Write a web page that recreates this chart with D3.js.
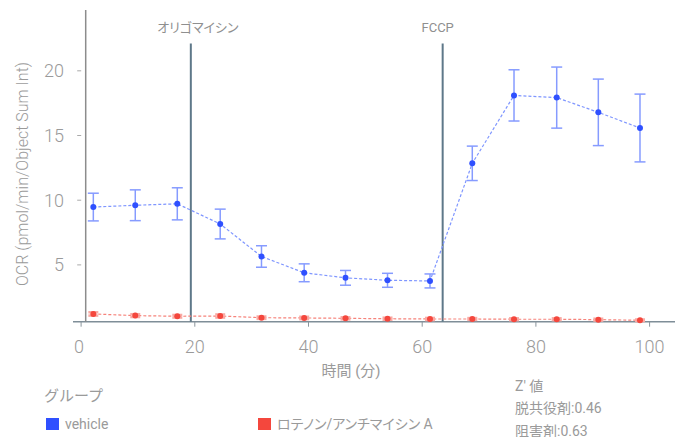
<!DOCTYPE html>
<html>
<head>
<meta charset="utf-8">
<script src="https://cdn.jsdelivr.net/npm/d3@7/dist/d3.min.js"></script>
<style>
  html, body { margin: 0; padding: 0; background: #fff; }
  svg { display: block; font-family: Roboto, "Noto Sans CJK JP", sans-serif; }
  .kana { font-feature-settings: "palt"; }
</style>
</head>
<body>
<svg id="chart" width="684" height="437"></svg>
<script>
// Measurement times (min)
const times = [2.15, 9.53, 16.92, 24.47, 31.73, 39.24, 46.51, 53.90, 61.37, 68.81, 76.15, 83.66, 90.98, 98.31];

// OCR per group: mean and error half-width
const vehicleMean = [9.47, 9.61, 9.72, 8.16, 5.65, 4.39, 4.00, 3.81, 3.76, 12.85, 18.10, 17.93, 16.79, 15.58];
const vehicleErr  = [1.07, 1.19, 1.24, 1.15, 0.83, 0.69, 0.57, 0.54, 0.54, 1.33, 1.98, 2.36, 2.57, 2.62];
const rotenoneMean = [1.21, 1.08, 1.03, 1.05, 0.92, 0.90, 0.87, 0.84, 0.82, 0.82, 0.80, 0.80, 0.77, 0.72];
const rotenoneErr  = [0.13, 0.11, 0.10, 0.12, 0.09, 0.09, 0.08, 0.08, 0.08, 0.07, 0.07, 0.07, 0.07, 0.06];

// Compound injections
const injectionNames = ["オリゴマイシン", "FCCP"];
const injectionTimes = [19.3, 63.6];

// Axis ticks
const xTicks = [0, 20, 40, 60, 80, 100];
const yTicks = [5, 10, 15, 20];

// Legend and Z' summary
const groupNames = ["vehicle", "ロテノン/アンチマイシン A"];
const zLabels = ["脱共役剤", "阻害剤"];
const zValues = [0.46, 0.63];

const colors = {
  vehicle: { dot: "#2f50ff", line: "#7f96ff", bar: "#869bff" },
  rotenone: { dot: "#f4473d", line: "#f6837b", bar: "#f9aaa4" }
};

const svg = d3.select("#chart");
const plotLeft = 85.7, plotBottom = 321.7, plotTop = 10;

const x = d3.scaleLinear().domain([0, 100]).range([81.1, 649.6]);
const y = d3.scaleLinear().domain([0.61, 24.7]).range([plotBottom, plotTop]);

const textGray = "#9a9a9a";

// x axis line and ticks
svg.append("line")
  .attr("x1", 73).attr("x2", 675)
  .attr("y1", plotBottom).attr("y2", plotBottom)
  .attr("stroke", "#7f8e98").attr("stroke-width", 1.5);

const xg = svg.append("g");
xg.selectAll("line.tick").data(xTicks).join("line")
  .attr("class", "tick")
  .attr("x1", d => x(d)).attr("x2", d => x(d))
  .attr("y1", plotBottom).attr("y2", plotBottom + 5)
  .attr("stroke", "#8a959c").attr("stroke-width", 1);
xg.selectAll("text").data(xTicks).join("text")
  .attr("x", d => x(d) - (d === 0 ? 2 : 0))
  .attr("y", 353)
  .attr("text-anchor", "middle")
  .attr("font-size", 18).attr("font-weight", 300)
  .attr("fill", textGray)
  .text(d => d);

// y axis line and ticks
svg.append("line")
  .attr("x1", plotLeft).attr("x2", plotLeft)
  .attr("y1", plotTop).attr("y2", plotBottom)
  .attr("stroke", "#8c8c8c").attr("stroke-width", 1.5);

const yg = svg.append("g");
yg.selectAll("line").data(yTicks).join("line")
  .attr("x1", plotLeft - 8.5).attr("x2", plotLeft - 4.5)
  .attr("y1", d => y(d)).attr("y2", d => y(d))
  .attr("stroke", "#aaa").attr("stroke-width", 1);
yg.selectAll("text").data(yTicks).join("text")
  .attr("x", 64)
  .attr("y", d => y(d))
  .attr("dy", "0.35em")
  .attr("text-anchor", "end")
  .attr("font-size", 18).attr("font-weight", 300)
  .attr("fill", textGray)
  .text(d => d);

// axis titles
svg.append("text")
  .attr("transform", "translate(28,174) rotate(-90)")
  .attr("text-anchor", "middle")
  .attr("font-size", 16).attr("font-weight", 300)
  .attr("fill", textGray)
  .text("OCR (pmol/min/Object Sum Int)");

svg.append("text")
  .attr("x", 351).attr("y", 376)
  .attr("text-anchor", "middle")
  .attr("font-size", 15)
  .attr("fill", textGray)
  .text("時間 (分)");

// injection markers
const inj = svg.append("g");
inj.selectAll("line").data(injectionTimes).join("line")
  .attr("x1", d => x(d)).attr("x2", d => x(d))
  .attr("y1", 43.5).attr("y2", plotBottom)
  .attr("stroke", "#5e7889").attr("stroke-width", 2);
inj.selectAll("text").data(injectionNames).join("text")
  .attr("class", "kana")
  .attr("x", (d, i) => x(injectionTimes[i]) + (i === 0 ? 7 : -5))
  .attr("y", 32)
  .attr("text-anchor", "middle")
  .attr("font-size", 13)
  .attr("fill", "#8f8f8f")
  .text(d => d);

// series
function drawSeries(means, errs, c, cap, barWidth, lineWidth) {
  const pts = times.map((t, i) => ({ t, m: means[i], e: errs[i] }));
  const g = svg.append("g");

  g.append("path")
    .datum(pts)
    .attr("fill", "none")
    .attr("stroke", c.line)
    .attr("stroke-width", lineWidth)
    .attr("stroke-dasharray", "3,2")
    .attr("d", d3.line().x(d => x(d.t)).y(d => y(d.m)));

  const bars = g.selectAll("g.err").data(pts).join("g").attr("class", "err")
    .attr("stroke", c.bar).attr("stroke-width", barWidth).attr("fill", "none");
  bars.append("line")
    .attr("x1", d => x(d.t)).attr("x2", d => x(d.t))
    .attr("y1", d => y(d.m + d.e)).attr("y2", d => y(d.m - d.e));
  bars.append("line")
    .attr("x1", d => x(d.t) - cap).attr("x2", d => x(d.t) + cap)
    .attr("y1", d => y(d.m + d.e)).attr("y2", d => y(d.m + d.e));
  bars.append("line")
    .attr("x1", d => x(d.t) - cap).attr("x2", d => x(d.t) + cap)
    .attr("y1", d => y(d.m - d.e)).attr("y2", d => y(d.m - d.e));

  g.selectAll("circle").data(pts).join("circle")
    .attr("cx", d => x(d.t)).attr("cy", d => y(d.m))
    .attr("r", 3)
    .attr("fill", c.dot);
}

drawSeries(rotenoneMean, rotenoneErr, colors.rotenone, 5, 2.5, 1.2);
drawSeries(vehicleMean, vehicleErr, colors.vehicle, 5.5, 1.5, 1.2);

// legend
svg.append("text")
  .attr("x", 44).attr("y", 401)
  .attr("font-size", 15)
  .attr("fill", textGray)
  .text("グループ");

const legendX = [46, 258];
const legendColors = [colors.vehicle.dot, colors.rotenone.dot];
const lg = svg.selectAll("g.legend").data(groupNames).join("g").attr("class", "legend");
lg.append("rect")
  .attr("x", (d, i) => legendX[i]).attr("y", 418)
  .attr("width", 13).attr("height", 12)
  .attr("fill", (d, i) => legendColors[i]);
lg.append("text")
  .attr("class", "kana")
  .attr("x", (d, i) => legendX[i] + 19).attr("y", 429)
  .attr("font-size", 14)
  .attr("fill", textGray)
  .text(d => d);

// Z' summary
svg.append("text")
  .attr("x", 515).attr("y", 391)
  .attr("font-size", 14)
  .attr("fill", textGray)
  .text("Z' 値");
svg.selectAll("text.z").data(zLabels).join("text")
  .attr("class", "z")
  .attr("x", 515).attr("y", (d, i) => 413 + i * 22.5)
  .attr("font-size", 14)
  .attr("fill", textGray)
  .text((d, i) => d + ":" + zValues[i].toFixed(2));
</script>
</body>
</html>
